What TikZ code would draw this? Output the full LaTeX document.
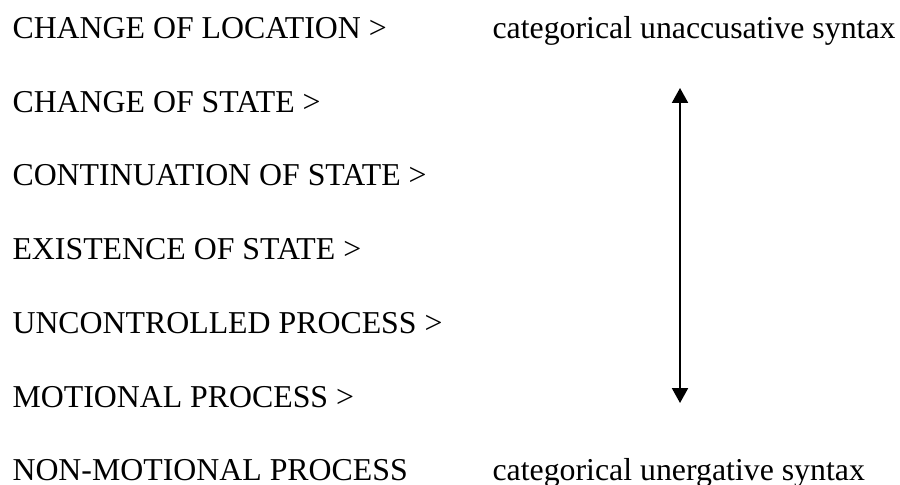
\documentclass[tikz,border=0pt]{standalone}
\usepackage{fontspec}
\setmainfont{Liberation Serif}
\usepackage{tikz}
\usetikzlibrary{arrows.meta,positioning}
\tikzset{
  lbl/.style={inner sep=0pt,anchor=base west,font=\fontsize{12}{14}\selectfont},
  arr/.style={{Triangle[width=6pt,length=5.6pt]}-{Triangle[width=6pt,length=5.6pt]},
              line width=0.75pt},
}

\begin{document}
\begin{tikzpicture}[x=0.377pt,y=-0.377pt]
\useasboundingbox (0,0) rectangle (900,484);

%% ---------- scale of verb classes (left) ----------
\node[lbl] (loc)   at (12,38)  {CHANGE OF LOCATION >};
\node[lbl] (state) at (12,112) {CHANGE OF STATE >};
\node[lbl] (cont)  at (12,185) {CONTINUATION OF STATE >};
\node[lbl] (exist) at (12,259) {EXISTENCE OF STATE >};
\node[lbl] (unc)   at (12,333) {UNCONTROLLED PROCESS >};
\node[lbl] (mot)   at (12,407) {MOTIONAL PROCESS >};
\node[lbl] (nonm)  at (12,480) {NON-MOTIONAL PROCESS};

%% ---------- syntax poles (right) ----------
\node[lbl] (unacc) at (492,38)  {categorical unaccusative syntax};
\node[lbl] (unerg) at (492,480) {categorical unergative syntax};

%% gradient arrow
\coordinate (atop) at (680,88);
\coordinate (abot) at (680,403);
\draw[arr] (atop) -- (abot);
\end{tikzpicture}
\end{document}
